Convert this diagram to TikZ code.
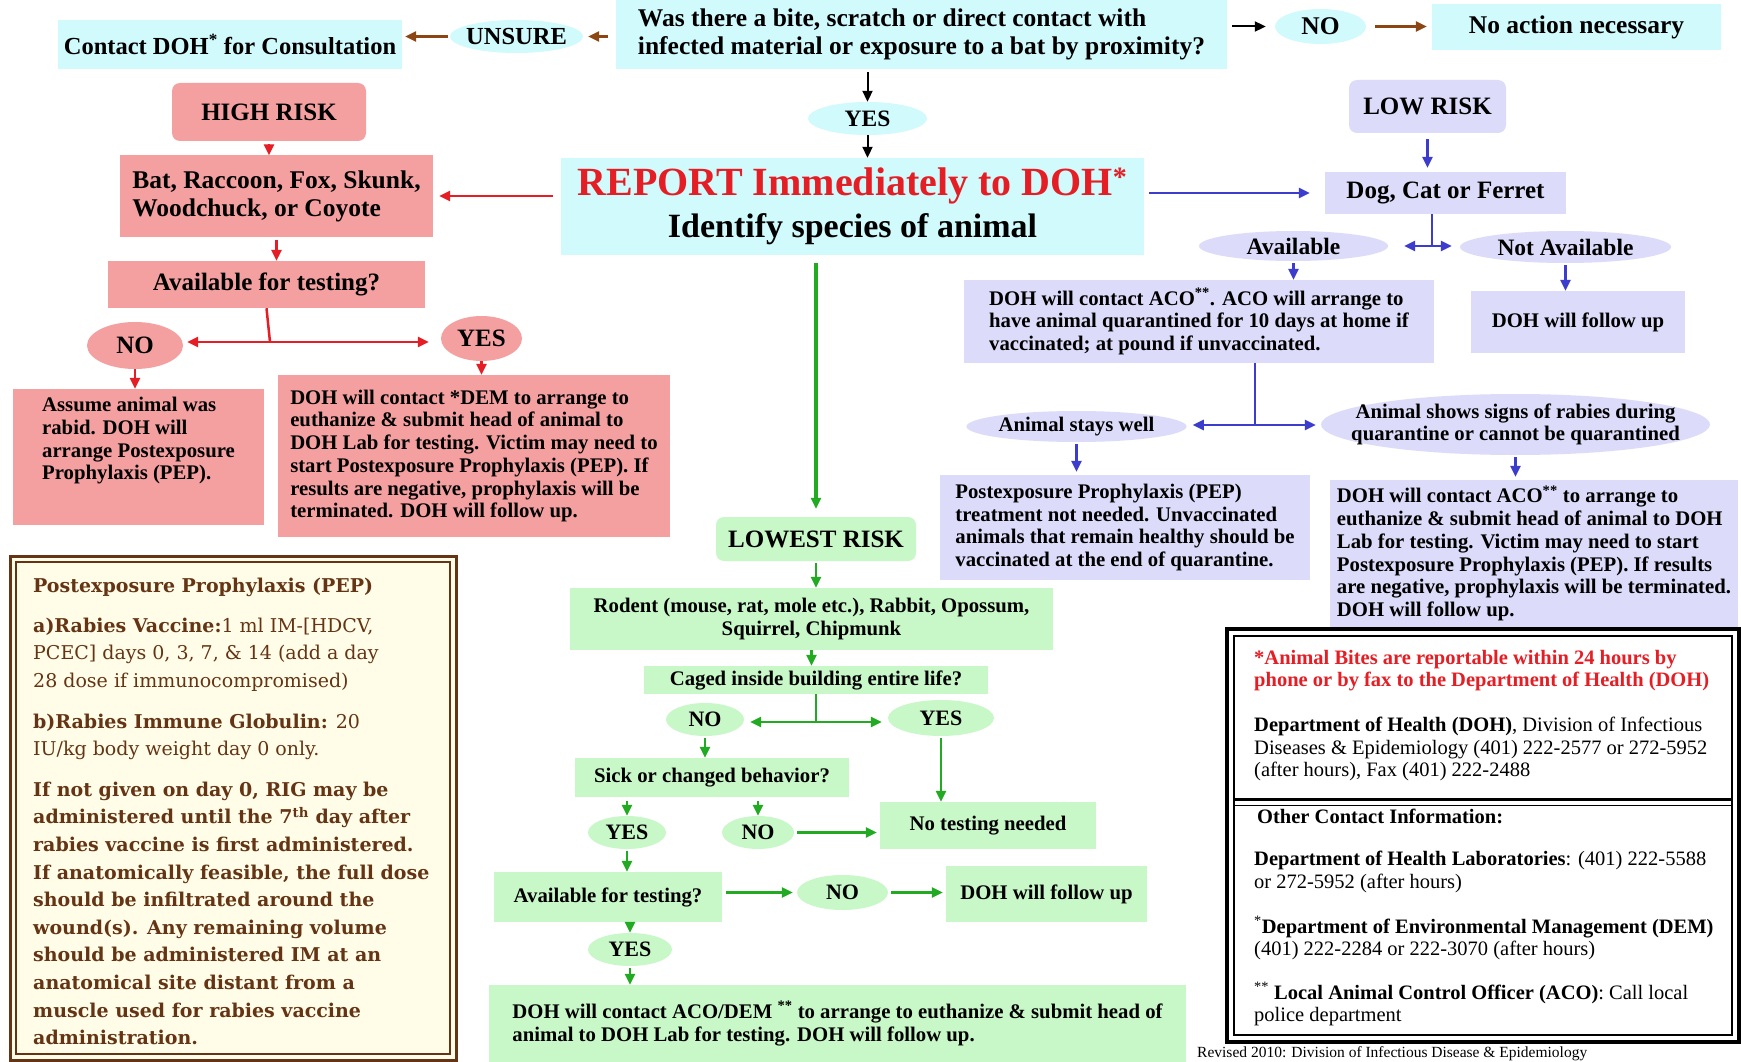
\documentclass[tikz,border=0pt]{standalone}
\usepackage{fontspec}
\setmainfont{Liberation Serif}
\newfontfamily\slabfont{DejaVu Serif}
\usetikzlibrary{arrows.meta,shapes.geometric}
\definecolor{CY}{RGB}{208,250,252}
\definecolor{PK}{RGB}{245,160,160}
\definecolor{LV}{RGB}{220,220,250}
\definecolor{GR}{RGB}{200,247,200}
\definecolor{RD}{RGB}{228,30,36}
\definecolor{BL}{RGB}{60,60,205}
\definecolor{GN}{RGB}{34,170,34}
\definecolor{BR}{RGB}{140,70,20}
\definecolor{PB}{RGB}{100,52,20}
\definecolor{CR}{RGB}{255,253,232}
\tikzset{
  flowbox/.style={rectangle, inner sep=0pt, align=center, font=\bfseries\fontsize{20.75}{22.75}\selectfont},
  cybox/.style={flowbox, fill=CY, font=\bfseries\fontsize{25.5}{28}\selectfont},
  pkbox/.style={flowbox, fill=PK},
  lvbox/.style={flowbox, fill=LV},
  gnbox/.style={flowbox, fill=GR},
  riskbox/.style={flowbox, rounded corners=8pt, font=\bfseries\fontsize{25}{28}\selectfont},
  ovalnode/.style={ellipse, inner sep=0pt, font=\bfseries\fontsize{22}{24}\selectfont},
  tip/.style={-{Triangle[length=11pt,width=10pt]}},
  redarrow/.style={draw=RD, line width=2.5pt, tip},
  bluearrow/.style={draw=BL, line width=2.5pt, tip},
  greenarrow/.style={draw=GN, line width=2.5pt, tip},
  brownarrow/.style={draw=BR, line width=2.5pt, tip},
  blackarrow/.style={draw=black, line width=2pt, tip},
  infotext/.style={anchor=north west, align=left, inner sep=0pt, font=\fontsize{20.5}{22.5}\selectfont},
}

\begin{document}
\begin{tikzpicture}[x=1pt,y=-1pt]
\useasboundingbox (0,0) rectangle (1741,1062);
\fill[white] (0,0) rectangle (1741,1062);
\clip (0,0) rectangle (1741,1062);

% top row
\node[cybox, minimum width=344, minimum height=49, font=\bfseries\fontsize{24.5}{28}\selectfont] (consult) at (230,44.5) {Contact DOH\textsuperscript{*} for Consultation};
\node[ovalnode, fill=CY, minimum width=133, minimum height=33, inner xsep=-6pt, font=\bfseries\fontsize{24.5}{28}\selectfont] (unsure) at (516.5,36.5) {UNSURE};
\node[cybox, minimum width=611, minimum height=69, align=left] (question) at (921.5,34.5) {Was there a bite, scratch or direct contact with\\infected material or exposure to a bat by proximity?};
\node[ovalnode, fill=CY, minimum width=91, minimum height=35, font=\bfseries\fontsize{25.5}{28}\selectfont] (topno) at (1320.5,26.5) {NO};
\node[cybox, minimum width=289, minimum height=46] (noaction) at (1576.5,27) {No action necessary};
\node[ovalnode, fill=CY, minimum width=119, minimum height=33, font=\bfseries\fontsize{23.5}{26}\selectfont] (topyes) at (867.5,118.5) {YES};
\node[cybox, minimum width=583, minimum height=97] (report) at (852.5,206.5) {{\color{RD}\fontsize{40}{42}\selectfont REPORT Immediately to DOH\textsuperscript{*}}\\[8pt]{\fontsize{34}{36}\selectfont Identify species of animal}};

\draw[brownarrow, shorten <=8pt, shorten >=5pt] (question.west |- unsure.east) -- (unsure.east);
\draw[brownarrow, shorten <=2pt, shorten >=3pt] (unsure.west) -- (unsure.west -| consult.east);
\draw[blackarrow, shorten <=5pt, shorten >=9pt] (question.east |- topno.west) -- (topno.west);
\draw[brownarrow, shorten <=9pt, shorten >=5pt] (topno.east) -- (topno.east -| noaction.west);
\draw[blackarrow, shorten <=3pt] (topyes.north |- question.south) -- (topyes.north);
\draw[blackarrow] (topyes.south) -- (topyes.south |- report.north);

% high risk
\node[riskbox, fill=PK, minimum width=194, minimum height=58] (highrisk) at (269,112) {HIGH RISK};
\node[pkbox, minimum width=313, minimum height=81, align=left, font=\bfseries\fontsize{25.5}{28}\selectfont] (highbat) at (276.5,196) {Bat, Raccoon, Fox, Skunk,\\Woodchuck, or Coyote};
\node[pkbox, minimum width=317, minimum height=47, font=\bfseries\fontsize{25}{28}\selectfont] (highavail) at (266.5,284.5) {Available for testing?};
\node[ovalnode, fill=PK, minimum width=96, minimum height=47, font=\bfseries\fontsize{25}{28}\selectfont] (highno) at (135,345.5) {NO};
\node[ovalnode, fill=PK, minimum width=81, minimum height=45, font=\bfseries\fontsize{25}{28}\selectfont] (highyes) at (481.5,338.5) {YES};
\node[pkbox, minimum width=251, minimum height=136, align=left] (assume) at (138.5,457) {Assume animal was\\rabid. DOH will\\arrange Postexposure\\Prophylaxis (PEP).\\[14pt]};
\node[pkbox, minimum width=392, minimum height=162, align=left] (demtest) at (474,456) {DOH will contact *DEM to arrange to\\euthanize \& submit head of animal to\\DOH Lab for testing. Victim may need to\\start Postexposure Prophylaxis (PEP). If\\results are negative, prophylaxis will be\\terminated. DOH will follow up.};
\coordinate (hsplit) at (270,342);

\draw[redarrow, shorten <=8pt, shorten >=6pt] (report.west |- highbat.east) -- (highbat.east);
\draw[redarrow, shorten <=3pt] (highrisk.south) -- (highrisk.south |- highbat.north);
\draw[redarrow, shorten <=3pt] (highbat.south) -- (highbat.south |- highavail.north);
\draw[draw=RD, line width=2.5pt] (highavail.south) -- (hsplit);
\draw[redarrow, shorten >=4pt] (hsplit) -- (hsplit -| highno.east);
\draw[redarrow, shorten >=12pt] (hsplit) -- (hsplit -| highyes.west);
\draw[redarrow] (highno.south) -- (highno.south |- assume.north);
\draw[redarrow] (highyes.south) -- (highyes.south |- demtest.north);

% lowest risk
\node[riskbox, fill=GR, minimum width=200, minimum height=44] (lowest) at (816,539) {LOWEST RISK};
\node[gnbox, minimum width=483, minimum height=62] (rodent) at (811.5,619) {Rodent (mouse, rat, mole etc.), Rabbit, Opossum,\\Squirrel, Chipmunk};
\node[gnbox, minimum width=344, minimum height=28] (caged) at (816,680) {Caged inside building entire life?};
\node[ovalnode, fill=GR, minimum width=78, minimum height=33] (cagedno) at (705,719.5) {NO};
\node[ovalnode, fill=GR, minimum width=106, minimum height=36] (cagedyes) at (941,718) {YES};
\node[gnbox, minimum width=274, minimum height=39] (sick) at (712,777.5) {Sick or changed behavior?};
\node[ovalnode, fill=GR, minimum width=78, minimum height=33] (sickyes) at (627,832.5) {YES};
\node[ovalnode, fill=GR, minimum width=72, minimum height=33] (sickno) at (758,832.5) {NO};
\node[gnbox, minimum width=216, minimum height=47] (notest) at (988,825.5) {No testing needed};
\node[gnbox, minimum width=228, minimum height=50] (greenavail) at (608,897) {Available for testing?};
\node[ovalnode, fill=GR, minimum width=91, minimum height=35] (availno) at (842.5,892.5) {NO};
\node[gnbox, minimum width=201, minimum height=56] (greenfollow) at (1046.5,894) {DOH will follow up};
\node[ovalnode, fill=GR, minimum width=84, minimum height=33] (availyes) at (630,949.5) {YES};
\node[gnbox, minimum width=697, minimum height=77, align=left] (greenfinal) at (837.5,1023.5) {DOH will contact ACO/DEM \textsuperscript{**} to arrange to euthanize \& submit head of\\animal to DOH Lab for testing. DOH will follow up.};
\coordinate (csplit) at (816,722);

\draw[greenarrow, line width=3.5pt, shorten <=8pt, shorten >=8pt] (lowest.north |- report.south) -- (lowest.north);
\draw[greenarrow, shorten <=2pt] (lowest.south) -- (lowest.south |- rodent.north);
\draw[greenarrow] (rodent.south) -- (rodent.south |- caged.north);
\draw[draw=GN, line width=2.5pt] (caged.south) -- (csplit);
\draw[greenarrow, shorten >=6pt] (csplit) -- (csplit -| cagedno.east);
\draw[greenarrow, shorten >=6pt] (csplit) -- (csplit -| cagedyes.west);
\draw[greenarrow, shorten <=2pt] (cagedno.south) -- (cagedno.south |- sick.north);
\draw[greenarrow, shorten <=2pt] (cagedyes.south) -- (cagedyes.south |- notest.north);
\draw[greenarrow, shorten <=4pt] (sickyes.north |- sick.south) -- (sickyes.north);
\draw[greenarrow, shorten <=4pt] (sickno.north |- sick.south) -- (sickno.north);
\draw[greenarrow, shorten <=3pt, shorten >=3pt] (sickno.east) -- (sickno.east -| notest.west);
\draw[greenarrow, shorten <=2pt] (sickyes.south) -- (sickyes.south |- greenavail.north);
\draw[greenarrow, shorten <=4pt, shorten >=4pt] (greenavail.east |- availno.west) -- (availno.west);
\draw[greenarrow, shorten <=3pt, shorten >=3pt] (availno.east) -- (availno.east -| greenfollow.west);
\draw[greenarrow] (availyes.north |- greenavail.south) -- (availyes.north);
\draw[greenarrow, shorten <=2pt] (availyes.south) -- (availyes.south |- greenfinal.north);

% low risk
\node[riskbox, fill=LV, minimum width=157, minimum height=53] (lowrisk) at (1427.5,106.5) {LOW RISK};
\node[lvbox, minimum width=241, minimum height=42, font=\bfseries\fontsize{25}{28}\selectfont] (dog) at (1445.5,193) {Dog, Cat or Ferret};
\node[ovalnode, fill=LV, minimum width=189, minimum height=30, font=\bfseries\fontsize{23.5}{26}\selectfont] (lowavail) at (1293.5,246) {Available};
\node[ovalnode, fill=LV, minimum width=211, minimum height=32, font=\bfseries\fontsize{23.5}{26}\selectfont] (lownotavail) at (1565.5,247) {Not Available};
\node[lvbox, minimum width=470, minimum height=83, align=left] (quarantine) at (1199,321.5) {DOH will contact ACO\textsuperscript{**}. ACO will arrange to\\have animal quarantined for 10 days at home if\\vaccinated; at pound if unvaccinated.};
\node[lvbox, minimum width=214, minimum height=62] (lowfollow) at (1578,322) {DOH will follow up};
\node[ovalnode, fill=LV, minimum width=211, minimum height=31, font=\bfseries\fontsize{20.75}{22.75}\selectfont] (stayswell) at (1076.5,426.5) {Animal stays well};
\node[ovalnode, fill=LV, minimum width=389, minimum height=61, inner xsep=-38pt, inner ysep=-2pt, align=center, font=\bfseries\fontsize{20.75}{22.75}\selectfont] (showssigns) at (1515.5,424.5) {Animal shows signs of rabies during\\quarantine or cannot be quarantined};
\node[lvbox, minimum width=370, minimum height=105, align=left] (pepnot) at (1125,527.5) {Postexposure Prophylaxis (PEP)\\treatment not needed. Unvaccinated\\animals that remain healthy should be\\vaccinated at the end of quarantine.};
\node[lvbox, minimum width=408, minimum height=147, align=left] (acotest) at (1534,553.5) {DOH will contact ACO\textsuperscript{**} to arrange to\\euthanize \& submit head of animal to DOH\\Lab for testing. Victim may need to start\\Postexposure Prophylaxis (PEP). If results\\are negative, prophylaxis will be terminated.\\DOH will follow up.};
\coordinate (dsplit) at (1432,246);
\coordinate (qsplit) at (1255,425);

\draw[bluearrow, shorten <=5pt, shorten >=15pt] (report.east |- dog.west) -- (dog.west);
\draw[bluearrow, shorten <=6pt, shorten >=4pt] (lowrisk.south) -- (lowrisk.south |- dog.north);
\draw[draw=BL, line width=2.5pt] (dsplit |- dog.south) -- (dsplit);
\draw[bluearrow, shorten >=16pt] (dsplit) -- (dsplit -| lowavail.east);
\draw[bluearrow, shorten >=8pt] (dsplit) -- (dsplit -| lownotavail.west);
\draw[bluearrow, shorten <=2pt] (lowavail.south) -- (lowavail.south |- quarantine.north);
\draw[bluearrow, shorten <=2pt] (lownotavail.south) -- (lownotavail.south |- lowfollow.north);
\draw[draw=BL, line width=2.5pt] (qsplit |- quarantine.south) -- (qsplit);
\draw[bluearrow, shorten >=6pt] (qsplit) -- (qsplit -| stayswell.east);
\draw[bluearrow, shorten >=5pt] (qsplit) -- (qsplit -| showssigns.west);
\draw[bluearrow, shorten <=2pt, shorten >=3pt] (stayswell.south) -- (stayswell.south |- pepnot.north);
\draw[bluearrow, shorten <=2pt, shorten >=3pt] (showssigns.south) -- (showssigns.south |- acotest.north);

% PEP panel
\fill[CR] (10,556) rectangle (456,1060);
\draw[PB, line width=3pt] (10,556) rectangle (456,1060);
\draw[PB, line width=1.5pt] (16,562) rectangle (450,1054);
\node[anchor=north west, align=left, inner sep=0pt, text=PB, font=\slabfont\fontsize{19}{27.6}\selectfont] (peptext) at (33,578) {\textbf{Postexposure Prophylaxis (PEP)}\\[12pt]
\textbf{a)Rabies Vaccine:}1 ml IM-[HDCV,\\
PCEC] days 0, 3, 7, \& 14 (add a day\\
28 dose if immunocompromised)\\[13pt]
\textbf{b)Rabies Immune Globulin:} 20\\
IU/kg body weight day 0 only.\\[13pt]
\textbf{If not given on day 0, RIG may be}\\
\textbf{administered until the 7\textsuperscript{th} day after}\\
\textbf{rabies vaccine is first administered.}\\
\textbf{If anatomically feasible, the full dose}\\
\textbf{should be infiltrated around the}\\
\textbf{wound(s). Any remaining volume}\\
\textbf{should be administered IM at an}\\
\textbf{anatomical site distant from a}\\
\textbf{muscle used for rabies vaccine}\\
\textbf{administration.}};

% contact panel
\fill[white] (1225,627) rectangle (1741,1044);
\draw[line width=4pt] (1227,629) rectangle (1739,1042);
\draw[line width=1.5pt] (1234,636) rectangle (1732,1035);
\draw[line width=3pt] (1234,799) -- (1732,799);
\draw[line width=1pt] (1234,805) -- (1732,805);
\node[infotext, text=RD, font=\bfseries\fontsize{20.5}{22.5}\selectfont] (bites) at (1254,650) {*Animal Bites are reportable within 24 hours by\\phone or by fax to the Department of Health (DOH)};
\node[infotext] (dohinfo) at (1254,717) {\textbf{Department of Health (DOH)}, Division of Infectious\\Diseases \& Epidemiology (401) 222-2577 or 272-5952\\(after hours), Fax (401) 222-2488};
\node[infotext] (other) at (1257,809) {\textbf{Other Contact Information:}};
\node[infotext] (labs) at (1254,851) {\textbf{Department of Health Laboratories}: (401) 222-5588\\or 272-5952 (after hours)};
\node[infotext] (dem) at (1254,916) {\textsuperscript{*}\textbf{Department of Environmental Management (DEM)}\\(401) 222-2284 or 222-3070 (after hours)};
\node[infotext] (aco) at (1254,982) {\textsuperscript{**} \textbf{Local Animal Control Officer (ACO)}: Call local\\police department};
\node[anchor=north west, inner sep=0pt, font=\fontsize{15.5}{17}\selectfont] (revised) at (1197,1046) {Revised 2010: Division of Infectious Disease \& Epidemiology};
\end{tikzpicture}
\end{document}
